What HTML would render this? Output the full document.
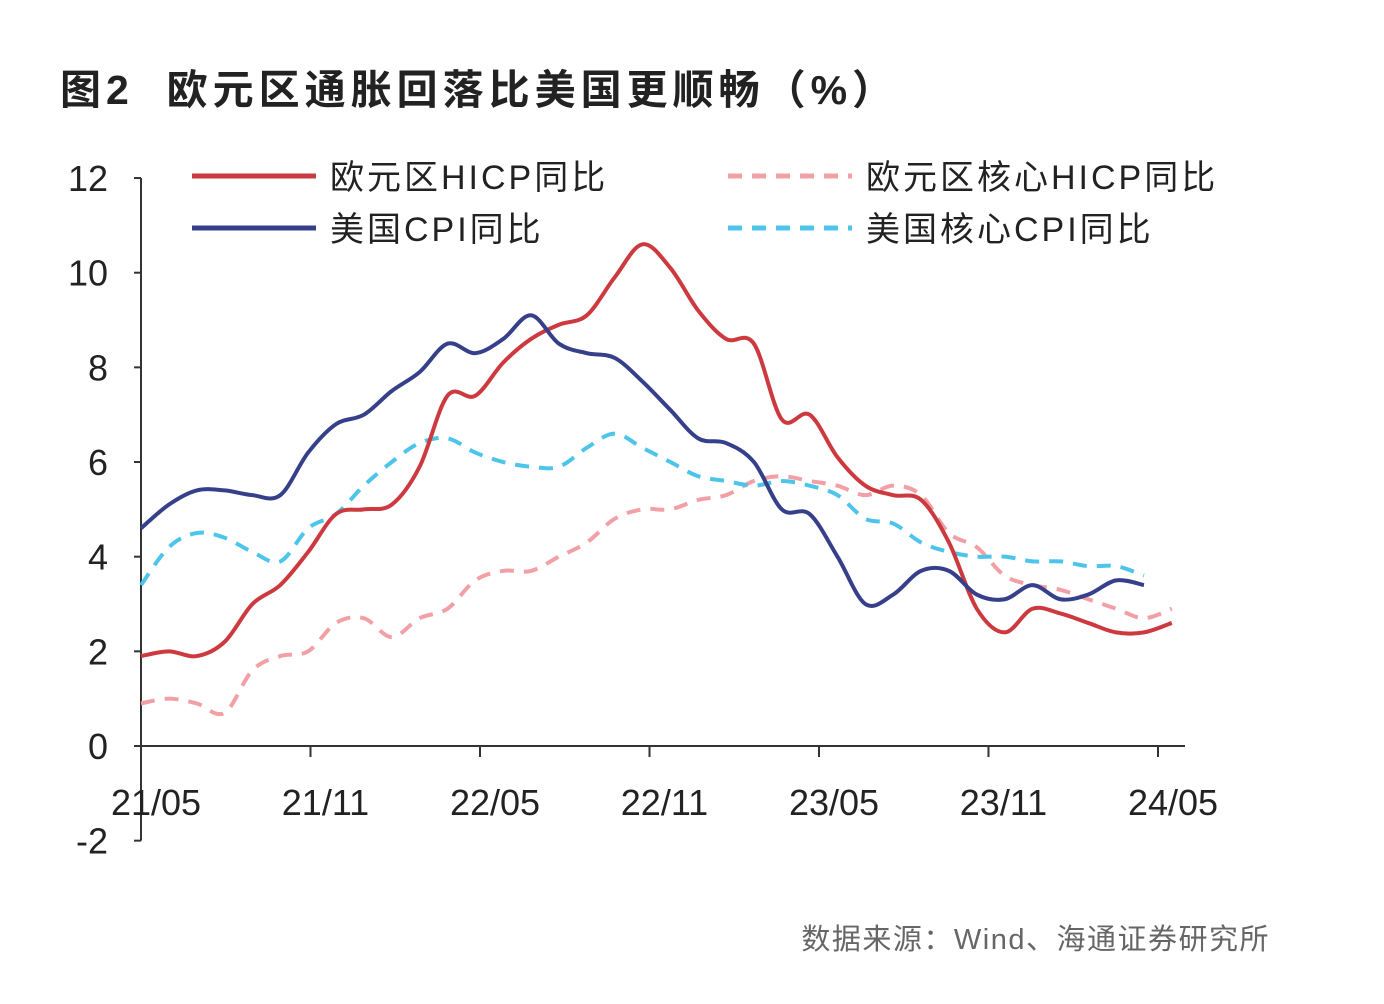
<!DOCTYPE html>
<html><head><meta charset="utf-8"><style>
body{margin:0;background:#fff;width:1384px;height:1004px;overflow:hidden;font-family:"Liberation Sans","Noto Sans CJK SC",sans-serif}
#title{position:absolute;left:60px;top:56px;font-size:41px;font-weight:bold;color:#222;font-family:"Liberation Sans","Noto Sans CJK SC",sans-serif;letter-spacing:5px}
#src{position:absolute;right:114px;top:916px;font-size:29px;color:#666;letter-spacing:1.5px}
svg{position:absolute;left:0;top:0}
</style></head><body>
<div id="title">图2&nbsp; 欧元区通胀回落比美国更顺畅（%）</div>
<div id="src">数据来源：Wind、海通证券研究所</div>
<svg id="chart" width="1384" height="1004"></svg>
<script>
const xTickLabels=["21/05","21/11","22/05","22/11","23/05","23/11","24/05"];
const yTicks=[-2,0,2,4,6,8,10,12];
const euHicp=[1.9,2.0,1.9,2.2,3.0,3.4,4.1,4.9,5.0,5.1,5.9,7.4,7.4,8.1,8.6,8.9,9.1,9.9,10.6,10.1,9.2,8.6,8.5,6.9,7.0,6.1,5.5,5.3,5.2,4.3,2.9,2.4,2.9,2.8,2.6,2.4,2.4,2.6];
const usCpi=[4.6,5.1,5.4,5.4,5.3,5.3,6.2,6.8,7.0,7.5,7.9,8.5,8.3,8.6,9.1,8.5,8.3,8.2,7.7,7.1,6.5,6.4,6.0,5.0,4.9,4.0,3.0,3.2,3.7,3.7,3.2,3.1,3.4,3.1,3.2,3.5,3.4];
const euCore=[0.9,1.0,0.9,0.7,1.6,1.9,2.0,2.6,2.7,2.3,2.7,2.9,3.5,3.7,3.7,4.0,4.3,4.8,5.0,5.0,5.2,5.3,5.6,5.7,5.6,5.5,5.3,5.5,5.3,4.5,4.2,3.6,3.4,3.3,3.1,2.9,2.7,2.9];
const usCore=[3.4,4.2,4.5,4.4,4.1,3.9,4.6,4.9,5.5,6.0,6.4,6.5,6.2,6.0,5.9,5.9,6.3,6.6,6.3,6.0,5.7,5.6,5.5,5.6,5.5,5.3,4.8,4.7,4.3,4.1,4.0,4.0,3.9,3.9,3.8,3.8,3.6];
const svg=document.getElementById('chart');const NS='http://www.w3.org/2000/svg';
const x0=141,dx=27.86,tickDx=169.5,y0=746,dy=47.33;
const X=i=>x0+i*dx, Y=v=>y0-v*dy;
function mk(t,a,p){const e=document.createElementNS(NS,t);for(const k in a)e.setAttribute(k,a[k]);(p||svg).appendChild(e);return e;}
const ax=mk('g',{});


mk('line',{x1:x0,y1:Y(12),x2:x0,y2:Y(-2),stroke:'#333','stroke-width':2},ax);
mk('line',{x1:x0,y1:y0,x2:1185,y2:y0,stroke:'#333','stroke-width':2},ax);
yTicks.forEach(v=>{mk('line',{x1:x0-7,y1:Y(v),x2:x0,y2:Y(v),stroke:'#333','stroke-width':2},ax);
const t=mk('text',{x:108,y:Y(v)+13,'text-anchor':'end','font-size':36,fill:'#222'},ax);t.textContent=v;

});
xTickLabels.forEach((l,i)=>{const x=x0+i*tickDx;mk('line',{x1:x,y1:y0,x2:x,y2:y0+11,stroke:'#333','stroke-width':2},ax);
const t=mk('text',{x:x+15,y:815,'text-anchor':'middle','font-size':36,fill:'#222'},ax);t.textContent=l;

});
function path(d){const p=d.map((v,i)=>[X(i),Y(v)]);let s=`M${p[0][0]},${p[0][1]}`;
for(let i=0;i<p.length-1;i++){const a=p[Math.max(i-1,0)],b=p[i],c=p[i+1],e=p[Math.min(i+2,p.length-1)];const k=6;
s+=` C${b[0]+(c[0]-a[0])/k},${b[1]+(c[1]-a[1])/k} ${c[0]-(e[0]-b[0])/k},${c[1]-(e[1]-b[1])/k} ${c[0]},${c[1]}`;}return s;}
const series=[[euCore,'#f2a0a6','14,10','eu-core-hicp-line'],[usCore,'#4dc4ea','14,10','us-core-cpi-line'],[euHicp,'#cc3a3f',null,'eu-hicp-line'],[usCpi,'#36408a',null,'us-cpi-line']];
series.forEach(s=>{const a={d:path(s[0]),fill:'none',stroke:s[1],'stroke-width':4,'stroke-linejoin':'round'};if(s[2])a['stroke-dasharray']=s[2];const e=mk('path',a);

});
const leg=[[192,176,'#cc3a3f',null,'欧元区HICP同比'],[192,228,'#36408a',null,'美国CPI同比'],[728,176,'#f2a0a6','14,10','欧元区核心HICP同比'],[728,228,'#4dc4ea','14,10','美国核心CPI同比']];
leg.forEach(l=>{const g=mk('g',{});


const a={x1:l[0],y1:l[1],x2:l[0]+124,y2:l[1],stroke:l[2],'stroke-width':5};if(l[3])a['stroke-dasharray']=l[3];mk('line',a,g);
const t=mk('text',{x:l[0]+138,y:l[1]+13,'font-size':34,fill:'#222','letter-spacing':3},g);t.textContent=l[4];});
</script>
</body></html>
